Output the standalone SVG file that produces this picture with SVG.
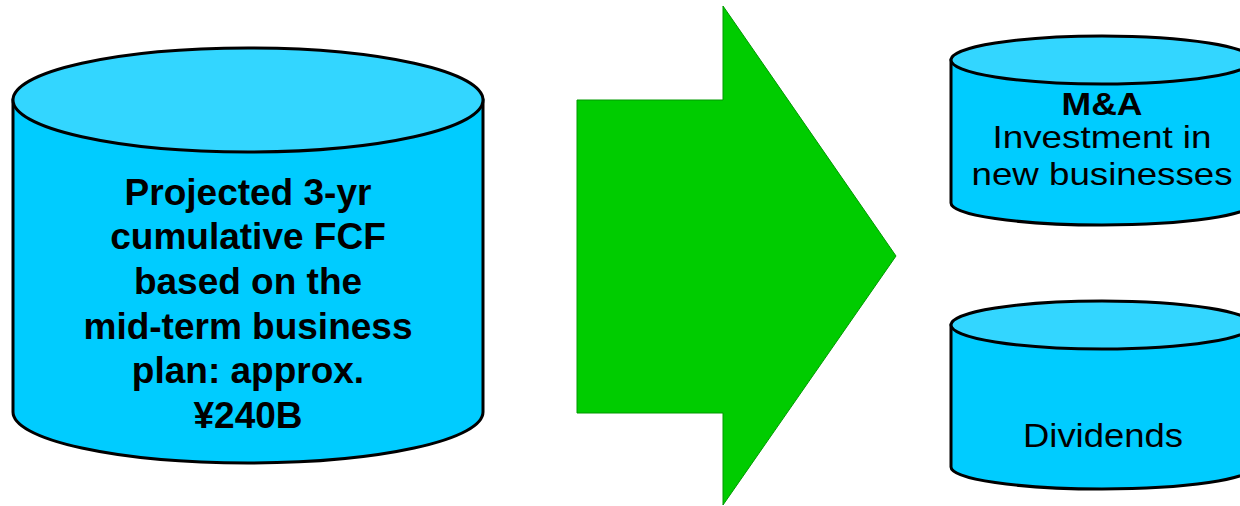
<svg xmlns="http://www.w3.org/2000/svg" width="1240" height="506" viewBox="0 0 1240 506">
<style>
.body{fill:#00CCFF;stroke:#000;stroke-width:3}
.top{fill:#33D6FF;stroke:#000;stroke-width:3}
.t{font-family:"Liberation Sans",Arial,sans-serif;fill:#000;text-anchor:middle}
.b{font-weight:bold}
</style>
<rect width="1240" height="506" fill="#fff"/>
<g id="fcf">
<path class="body" d="M13,100 V412 A235,51 0 0 0 483,412 V100 Z"/>
<ellipse class="top" cx="248" cy="100" rx="235" ry="52"/>
<g class="t b" font-size="37">
<text x="248" y="205">Projected 3-yr</text>
<text x="248" y="249">cumulative FCF</text>
<text x="248" y="294">based on the</text>
<text x="248" y="339">mid-term business</text>
<text x="248" y="383">plan: approx.</text>
<text x="248" y="428">¥240B</text>
</g>
</g>
<g id="connectors">
<polygon points="577,100 723,100 723,6 896,256 723,505 723,413 577,413" fill="#00CC00" stroke="#009900" stroke-width="1"/>
</g>
<g id="mna">
<path class="body" d="M951,60 V203 A151,22 0 0 0 1253,203 V60 Z"/>
<ellipse class="top" cx="1102" cy="60" rx="151" ry="24"/>
<g class="t" font-size="32">
<text class="b" x="1102" y="115" textLength="81" lengthAdjust="spacingAndGlyphs">M&amp;A</text>
<text x="1102" y="148" textLength="219" lengthAdjust="spacingAndGlyphs">Investment in</text>
<text x="1102" y="185" textLength="261" lengthAdjust="spacingAndGlyphs">new businesses</text>
</g>
</g>
<g id="dividends">
<path class="body" d="M951,325 V467 A151,22 0 0 0 1253,467 V325 Z"/>
<ellipse class="top" cx="1102" cy="325" rx="151" ry="24"/>
<text class="t" font-size="34" x="1103" y="447" textLength="160" lengthAdjust="spacingAndGlyphs">Dividends</text>
</g>
</svg>
